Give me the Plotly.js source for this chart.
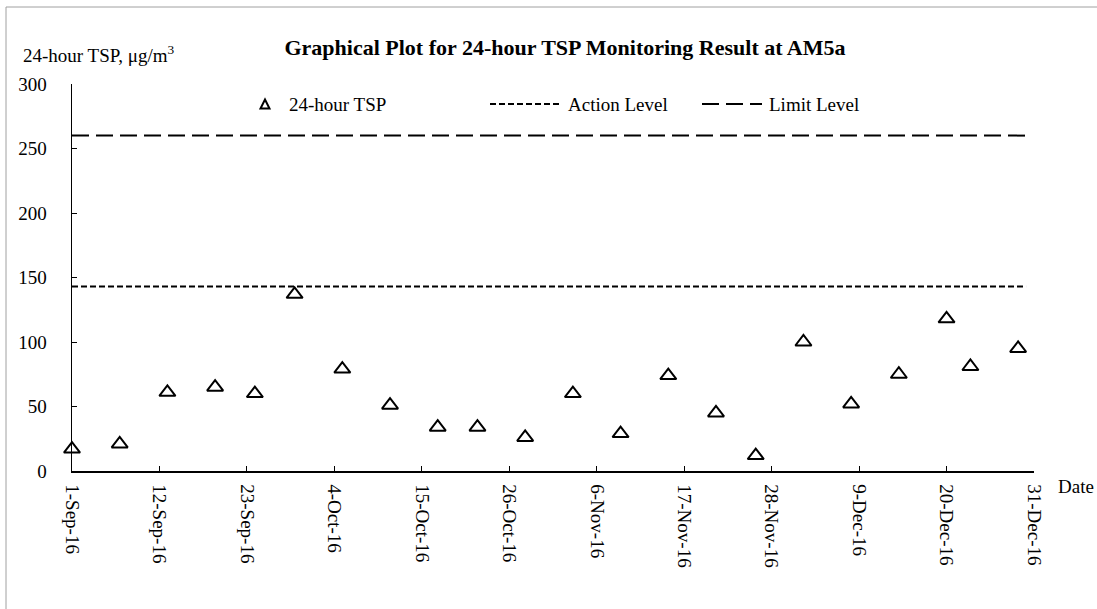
<!DOCTYPE html>
<html>
<head>
<meta charset="utf-8">
<script src="https://cdn.plot.ly/plotly-3.0.1.min.js"></script>
<style>
  html, body { margin: 0; padding: 0; background: #ffffff; }
  #chart { width: 1097px; height: 609px; }
</style>
</head>
<body>
<div id="chart"></div>
<script>
// ---- Data ----
const sampleDates = [
  "2016-09-01", "2016-09-07", "2016-09-13", "2016-09-19", "2016-09-24", "2016-09-29",
  "2016-10-05", "2016-10-11", "2016-10-17", "2016-10-22", "2016-10-28",
  "2016-11-03", "2016-11-09", "2016-11-15", "2016-11-21", "2016-11-26",
  "2016-12-02", "2016-12-08", "2016-12-14", "2016-12-20", "2016-12-23", "2016-12-29"
];
const tspValues = [
  17, 21, 61, 65, 60, 137,
  79, 51, 34, 34, 26,
  60, 29, 74, 45, 12,
  100, 52, 75, 118, 81, 95
];
const levelDates = ["2016-09-01", "2016-12-30"];
const actionLevel = [143, 143];
const limitLevel = [260, 260];

const tickDates = [
  "2016-09-01", "2016-09-12", "2016-09-23", "2016-10-04", "2016-10-15", "2016-10-26",
  "2016-11-06", "2016-11-17", "2016-11-28", "2016-12-09", "2016-12-20", "2016-12-31"
];
const tickLabels = [
  "1-Sep-16", "12-Sep-16", "23-Sep-16", "4-Oct-16", "15-Oct-16", "26-Oct-16",
  "6-Nov-16", "17-Nov-16", "28-Nov-16", "9-Dec-16", "20-Dec-16", "31-Dec-16"
];
const yTicks = [0, 50, 100, 150, 200, 250, 300];

const chartTitle = "Graphical Plot for 24-hour TSP Monitoring Result at AM5a";
const yTitle = "24-hour TSP, μg/m<sup>3</sup>";
const xTitle = "Date";
const seriesNames = ["24-hour TSP", "Action Level", "Limit Level"];

// ---- Geometry ----
const W = 1097, H = 609;
const M = { l: 72, r: 63, t: 84, b: 138 };
const PW = W - M.l - M.r, PH = H - M.t - M.b;
const px = x => (x - M.l) / PW;
const py = y => (H - M.b - y) / PH;

const FONT = "Liberation Serif, Times New Roman, serif";
const fs = 19;
const ACTION_DASH = "6px,3px";
const LIMIT_DASH = "17px,7px";

const traces = [
  {
    x: sampleDates, y: tspValues, name: seriesNames[0], type: "scatter", mode: "markers",
    marker: { symbol: "triangle-up-open", size: 14, color: "#000000", line: { width: 2, color: "#000000" } },
    cliponaxis: false, showlegend: false
  },
  {
    x: levelDates, y: actionLevel, name: seriesNames[1], type: "scatter", mode: "lines",
    line: { color: "#000000", width: 2, dash: ACTION_DASH }, showlegend: false
  },
  {
    x: levelDates, y: limitLevel, name: seriesNames[2], type: "scatter", mode: "lines",
    line: { color: "#000000", width: 2, dash: LIMIT_DASH }, showlegend: false
  }
];

// manual legend
const legY = 104;
const shapes = [
  { type: "rect", xref: "paper", yref: "paper",
    x0: px(6), x1: px(W + 5), y0: py(H + 5), y1: py(7),
    line: { color: "#a0a0a0", width: 1 }, fillcolor: "rgba(0,0,0,0)", layer: "below" },
  { type: "path", xref: "paper", yref: "paper",
    path: `M ${px(260.5)},${py(legY + 4.5)} L ${px(269.5)},${py(legY + 4.5)} L ${px(265)},${py(legY - 4.5)} Z`,
    line: { color: "#000000", width: 2 }, fillcolor: "rgba(0,0,0,0)" },
  { type: "line", xref: "paper", yref: "paper",
    x0: px(490), x1: px(560), y0: py(legY), y1: py(legY),
    line: { color: "#000000", width: 2, dash: ACTION_DASH } },
  { type: "line", xref: "paper", yref: "paper",
    x0: px(702), x1: px(762), y0: py(legY), y1: py(legY),
    line: { color: "#000000", width: 2, dash: LIMIT_DASH } }
];

const annotations = [
  { text: seriesNames[0], xref: "paper", yref: "paper", x: px(287), y: py(legY), xanchor: "left", yanchor: "middle", showarrow: false, font: { family: FONT, size: fs, color: "#000" } },
  { text: seriesNames[1], xref: "paper", yref: "paper", x: px(566), y: py(legY), xanchor: "left", yanchor: "middle", showarrow: false, font: { family: FONT, size: fs, color: "#000" } },
  { text: seriesNames[2], xref: "paper", yref: "paper", x: px(767), y: py(legY), xanchor: "left", yanchor: "middle", showarrow: false, font: { family: FONT, size: fs, color: "#000" } },
  { text: yTitle, xref: "paper", yref: "paper", x: px(21), y: py(54), xanchor: "left", yanchor: "middle", showarrow: false, font: { family: FONT, size: fs, color: "#000" } },
  { text: xTitle, xref: "paper", yref: "paper", x: px(1056), y: py(486), xanchor: "left", yanchor: "middle", showarrow: false, font: { family: FONT, size: fs, color: "#000" } }
];

const layout = {
  width: W, height: H,
  margin: M,
  paper_bgcolor: "#ffffff", plot_bgcolor: "#ffffff",
  font: { family: FONT, size: fs, color: "#000000" },
  title: {
    text: "<b>" + chartTitle + "</b>",
    font: { family: FONT, size: 22, color: "#000000" },
    xref: "paper", x: px(565), xanchor: "center",
    yref: "container", y: 1 - 47 / H, yanchor: "middle"
  },
  showlegend: false,
  xaxis: {
    type: "date",
    range: ["2016-09-01", "2016-12-31"],
    tickmode: "array", tickvals: tickDates, ticktext: tickLabels,
    tickangle: 90,
    ticks: "inside", ticklen: 5, tickcolor: "#000", tickwidth: 1,
    showline: true, linecolor: "#000", linewidth: 1.5,
    showgrid: false, zeroline: false,
    ticklabelstandoff: 8,
    tickfont: { family: FONT, size: fs, color: "#000" }
  },
  yaxis: {
    range: [0, 300],
    tickmode: "array", tickvals: yTicks,
    ticks: "inside", ticklen: 5, tickcolor: "#000", tickwidth: 1,
    showline: true, linecolor: "#000", linewidth: 1.5,
    showgrid: false, zeroline: false,
    ticklabelstandoff: 20,
    tickfont: { family: FONT, size: fs, color: "#000" }
  },
  shapes: shapes,
  annotations: annotations
};

Plotly.newPlot("chart", traces, layout, { displayModeBar: false, staticPlot: true });
</script>
</body>
</html>
